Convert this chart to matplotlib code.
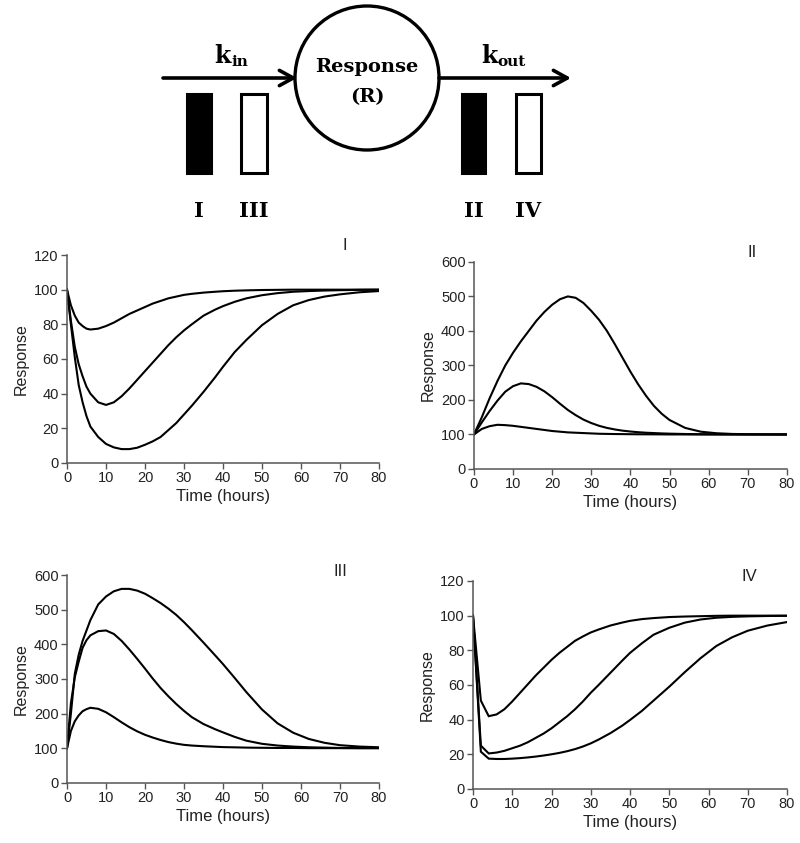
import matplotlib.pyplot as plt
from matplotlib.patches import Circle, Rectangle

plt.rcParams["font.family"] = ["Liberation Sans", "DejaVu Sans"]

# ----------------------------
# Data (hours, response)
# ----------------------------
time_i = [0, 1, 2, 3, 4, 5, 6, 8, 10, 12, 14, 16, 18, 20, 22, 24, 26, 28, 30,
          32, 35, 38, 40, 43, 46, 50, 54, 58, 62, 66, 70, 75, 80]
resp_i_weak = [100, 91, 85, 81, 79, 77.5, 77, 77.5, 79, 81, 83.5, 86, 88, 90, 92,
               93.5, 95, 96, 97, 97.6, 98.3, 98.8, 99.1, 99.4, 99.6, 99.8, 99.9,
               100, 100, 100, 100, 100, 100]
resp_i_mid = [100, 82, 67, 57, 50, 44, 40, 35, 33.5, 35, 38.5, 43, 48, 53, 58,
              63, 68, 72.5, 76.5, 80, 85, 88.5, 90.5, 93, 95, 96.8, 98, 98.8,
              99.2, 99.5, 99.7, 99.9, 100]
resp_i_strong = [100, 80, 61, 45, 35, 27, 21, 15, 11, 9, 8, 8, 8.8, 10.5, 12.5,
                 15, 19, 23, 28, 33, 41, 49.5, 55.5, 64, 71, 79.5, 86, 91, 94, 96,
                 97.3, 98.5, 99.2]

time_ii = [0, 2, 4, 6, 8, 10, 12, 14, 16, 18, 20, 22, 24, 26, 28, 30, 32, 34,
           36, 38, 40, 42, 44, 46, 48, 50, 54, 58, 62, 66, 70, 75, 80]
resp_ii_weak = [100, 116, 124, 128, 127, 125, 122, 119, 116, 113, 110, 108, 106,
                105, 104, 103, 102, 101.6, 101.2, 101, 100.7, 100.5, 100.4,
                100.3, 100.2, 100, 100, 100, 100, 100, 100, 100, 100]
resp_ii_mid = [100, 135, 168, 198, 224, 240, 248, 246, 238, 225, 208, 189, 171,
               156, 143, 133, 125, 119, 114.5, 111, 108.5, 106.5, 105, 104, 103,
               102.3, 101.3, 100.7, 100.3, 100, 100, 100, 100]
resp_ii_strong = [100, 150, 205, 255, 300, 337, 370, 400, 430, 455, 476, 492,
                  500, 496, 481, 458, 432, 400, 362, 322, 282, 245, 212, 183,
                  160, 142, 119, 108, 103.5, 101.5, 100.7, 100.2, 100]

time_iii = [0, 1, 2, 3, 4, 5, 6, 8, 10, 12, 14, 16, 18, 20, 22, 24, 26, 28, 30,
            32, 35, 38, 40, 43, 46, 50, 54, 58, 62, 66, 70, 75, 80]
resp_iii_weak = [100, 150, 178, 195, 207, 213, 217, 214, 204, 190, 175, 161,
                 149, 139, 131, 124, 118, 113.5, 110, 108, 106, 104.5, 103.5,
                 102.8, 102, 101.5, 101, 101, 100.5, 100.5, 100.5, 100.5, 100.5]
resp_iii_mid = [100, 230, 305, 350, 390, 412, 426, 438, 440, 430, 410, 385, 358,
                330, 301, 274, 250, 228, 208, 190, 170, 155, 146, 133, 122, 113,
                108, 105, 103, 102, 101, 100.5, 100.5]
resp_iii_strong = [100, 200, 315, 370, 410, 440, 470, 515, 538, 553, 560, 560,
                   555, 546, 533, 519, 503, 485, 464, 441, 405, 368, 343, 303,
                   262, 212, 172, 145, 127, 116, 109, 105, 103]

time_iv = [0, 2, 4, 6, 8, 10, 12, 14, 16, 18, 20, 22, 24, 26, 28, 30, 32, 35,
           38, 40, 43, 46, 50, 54, 58, 62, 66, 70, 75, 80]
resp_iv_weak = [100, 51, 42, 43, 46, 50.5, 55.5, 60.5, 65.5, 70, 74.5, 78.5, 82,
                85.5, 88, 90.3, 92, 94.3, 96, 97, 98, 98.6, 99.2, 99.5, 99.7,
                99.9, 100, 100, 100, 100]
resp_iv_mid = [100, 25, 20.5, 21, 22, 23.5, 25, 27, 29.5, 32, 35, 38.5, 42, 46,
               50.5, 55.5, 60, 67, 74, 78.5, 84, 89, 93, 96, 97.8, 98.8, 99.3,
               99.6, 99.8, 99.9]
resp_iv_strong = [100, 21.5, 17.5, 17.3, 17.3, 17.5, 17.8, 18.2, 18.7, 19.3, 20,
                  20.8, 21.8, 23, 24.5, 26.3, 28.5, 32.2, 36.5, 39.8, 45, 51, 59,
                  67.5, 75.5, 82.5, 87.5, 91.3, 94.3, 96.3]

fig = plt.figure(figsize=(8, 8.43), dpi=100)

# ----------------------------
# Top schematic (pixel coordinates)
# ----------------------------
dg = fig.add_axes([0, 0, 1, 1])
dg.set_xlim(0, 800)
dg.set_ylim(843, 0)
dg.axis("off")

serif = dict(family="DejaVu Serif", weight="bold", color="black")
arrow = dict(arrowstyle="->,head_length=1.0,head_width=0.55", lw=2.6,
             color="black", shrinkA=0, shrinkB=0)
dg.annotate("", xy=(297, 78), xytext=(163, 78), arrowprops=arrow)
dg.annotate("", xy=(571, 78), xytext=(439, 78), arrowprops=arrow)
dg.add_patch(Circle((367, 78), 72, fill=False, lw=2.4, ec="black"))
dg.text(367, 67, "Response", ha="center", va="center", fontsize=14, **serif)
dg.text(367, 97, "(R)", ha="center", va="center", fontsize=14, **serif)

dg.text(222, 63, "k", ha="center", va="baseline", fontsize=17, **serif)
dg.text(231, 66, "in", ha="left", va="baseline", fontsize=11, **serif)
dg.text(489, 63, "k", ha="center", va="baseline", fontsize=17, **serif)
dg.text(497, 66, "out", ha="left", va="baseline", fontsize=11, **serif)

boxes = [(187, 24, True, "I"), (241, 26, False, "III"),
         (462, 23, True, "II"), (516, 25, False, "IV")]
for x0, w, filled, name in boxes:
    dg.add_patch(Rectangle((x0, 94), w, 79, fc="black" if filled else "white",
                           ec="black", lw=2.2))
    dg.text(x0 + w / 2, 211, name, ha="center", va="center", fontsize=15, **serif)

# ----------------------------
# Four response panels
# ----------------------------
panels = [
    ([0.08375, 0.4508, 0.39, 0.2467], time_i,
     [resp_i_weak, resp_i_mid, resp_i_strong], 120, 20, "I", (0.89, 1.045)),
    ([0.5925, 0.4437, 0.391, 0.2456], time_ii,
     [resp_ii_weak, resp_ii_mid, resp_ii_strong], 600, 100, "II", (0.888, 1.045)),
    ([0.08375, 0.0712, 0.39, 0.2467], time_iii,
     [resp_iii_weak, resp_iii_mid, resp_iii_strong], 600, 100, "III", (0.878, 1.016)),
    ([0.59125, 0.0641, 0.3925, 0.2467], time_iv,
     [resp_iv_weak, resp_iv_mid, resp_iv_strong], 120, 20, "IV", (0.879, 1.02)),
]

for rect, t, curves, ymax, ystep, name, (lx, ly) in panels:
    ax = fig.add_axes(rect)
    for resp in curves:
        ax.plot(t, resp, color="black", lw=1.5, solid_joinstyle="miter")
    ax.set_xlim(0, 80)
    ax.set_ylim(0, ymax)
    ax.set_xticks(range(0, 81, 10))
    ax.set_yticks(range(0, ymax + 1, ystep))
    for side in ["top", "right"]:
        ax.spines[side].set_visible(False)
    for side in ["left", "bottom"]:
        ax.spines[side].set_color("#555555")
        ax.spines[side].set_linewidth(1.1)
    ax.tick_params(direction="out", length=4, width=1.0, color="#555555",
                   labelsize=10.5, labelcolor="#222222", pad=2)
    ax.set_xlabel("Time (hours)", fontsize=12, color="#222222", labelpad=3)
    ax.set_ylabel("Response", fontsize=11.5, color="#222222", labelpad=4)
    ax.text(lx, ly, name, transform=ax.transAxes, ha="center", va="center",
            fontsize=12, color="#222222")

plt.savefig("out.png", dpi=100)
